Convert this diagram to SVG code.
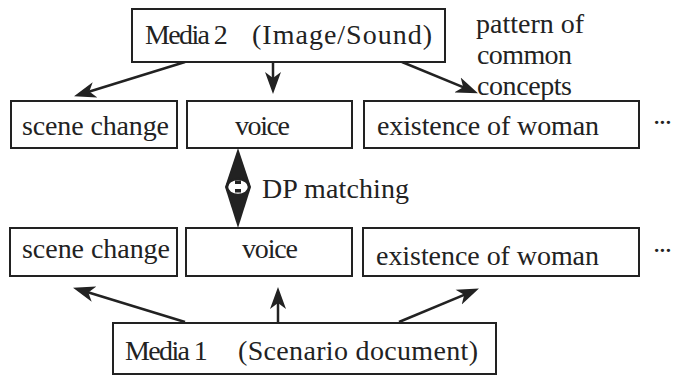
<svg xmlns="http://www.w3.org/2000/svg" width="678" height="376" viewBox="0 0 678 376">
<style>
.box{fill:#fff;stroke:#222;stroke-width:2}
.t{font-family:"Liberation Serif","Times New Roman",serif;font-size:28px;fill:#222}
.c{stroke:#222;stroke-width:2.5;fill:none}
</style>
<defs>
<marker id="ah" viewBox="0 -9 22 18" markerWidth="22" markerHeight="18" refX="15" refY="0" markerUnits="userSpaceOnUse" orient="auto">
<path d="M0,-8 L22,0 L0,8 L6,0 Z" fill="#222"/>
</marker>
</defs>
<rect width="678" height="376" fill="#fff"/>
<g id="connectors">
<line class="c" x1="185" y1="62" x2="80.7" y2="94.2" marker-end="url(#ah)"/>
<line class="c" x1="273" y1="62" x2="273" y2="87" marker-end="url(#ah)"/>
<line class="c" x1="402" y1="62" x2="471.5" y2="90.7" marker-end="url(#ah)"/>
<line class="c" x1="185" y1="322" x2="79.7" y2="289.8" marker-end="url(#ah)"/>
<line class="c" x1="278" y1="322" x2="278" y2="294" marker-end="url(#ah)"/>
<line class="c" x1="399" y1="322" x2="472.5" y2="291.3" marker-end="url(#ah)"/>
<g id="dp-matching">
<polygon points="238,148 251,187 238,228 225,187" fill="#222"/>
<ellipse cx="238" cy="187" rx="11" ry="8" fill="#fff" stroke="#222" stroke-width="2.5"/>
<rect x="235" y="180.5" width="6" height="3.5" fill="#222"/>
<rect x="235" y="189" width="6" height="3.5" fill="#222"/>
<text class="t" x="262" y="198" textLength="147">DP matching</text>
</g>
</g>
<g id="media2">
<rect class="box" x="132" y="9" width="313" height="53"/>
<text class="t" y="44"><tspan x="145" textLength="88">Media 2 </tspan><tspan x="252" textLength="180">(Image/Sound)</tspan></text>
</g>
<g id="pattern-label">
<text class="t" x="476" y="33" textLength="108">pattern of</text>
<text class="t" x="477" y="64" textLength="95">common</text>
<text class="t" x="477" y="95" textLength="95">concepts</text>
</g>
<g id="top-scene">
<rect class="box" x="11" y="101" width="166" height="47"/>
<text class="t" x="22" y="135" textLength="147">scene change</text>
</g>
<g id="top-voice">
<rect class="box" x="187" y="101" width="165" height="47"/>
<text class="t" x="235" y="135" textLength="55">voice</text>
</g>
<g id="top-woman">
<rect class="box" x="364" y="101" width="275" height="47"/>
<text class="t" x="377" y="135" textLength="222">existence of woman</text>
</g>
<g id="top-more">
<text class="t" x="652" y="132" textLength="21">···</text>
</g>
<g id="bottom-scene">
<rect class="box" x="10" y="228" width="167" height="48"/>
<text class="t" x="22" y="258" textLength="148">scene change</text>
</g>
<g id="bottom-voice">
<rect class="box" x="186" y="228" width="166" height="48"/>
<text class="t" x="242" y="258" textLength="56">voice</text>
</g>
<g id="bottom-woman">
<rect class="box" x="363" y="228" width="276" height="48"/>
<text class="t" x="376" y="265" textLength="223">existence of woman</text>
</g>
<g id="bottom-more">
<text class="t" x="652" y="260" textLength="21">···</text>
</g>
<g id="media1">
<rect class="box" x="113" y="323" width="383" height="51"/>
<text class="t" y="360"><tspan x="125" textLength="88">Media 1 </tspan><tspan x="238" textLength="240">(Scenario document)</tspan></text>
</g>
</svg>
